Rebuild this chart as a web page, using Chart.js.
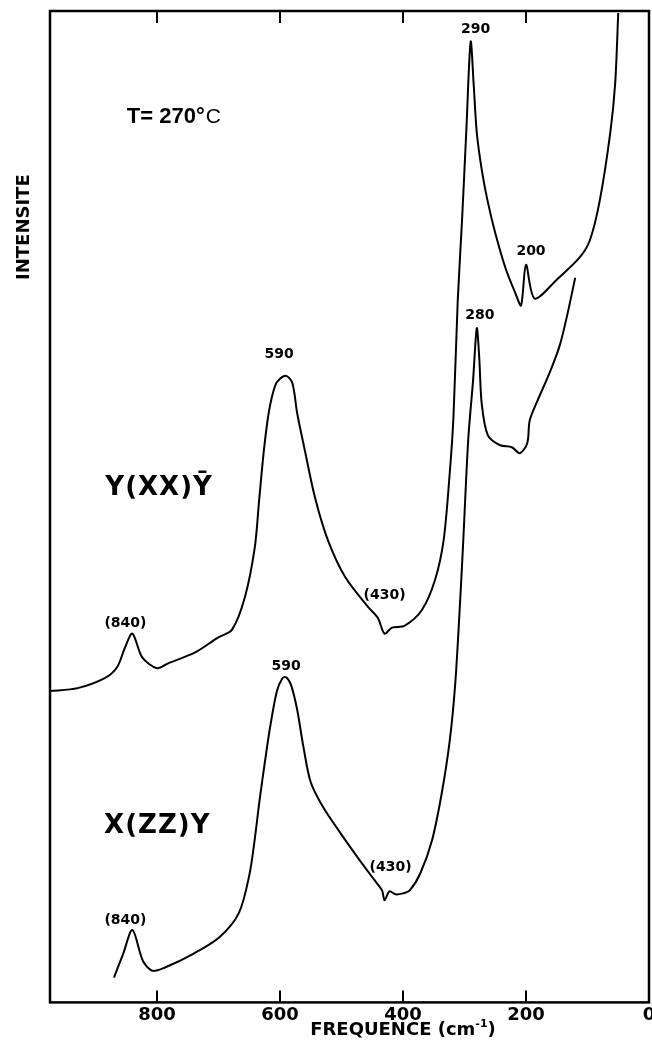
<!DOCTYPE html>
<html>
<head>
<meta charset="utf-8">
<script src="https://cdn.jsdelivr.net/npm/chart.js@4/dist/chart.umd.min.js"></script>
<style>
  html, body { margin: 0; padding: 0; background: #fff; }
  #wrap { width: 652px; height: 1040px; }
</style>
</head>
<body>
<div id="wrap"><canvas id="spectre"></canvas></div>
<script>
// Raman spectra, frequency in cm-1 (axis runs from high to low), intensity in arbitrary units
var tickValues = [800, 600, 400, 200, 0];

// Y(XX)Y-bar spectrum
var freqXX = [975, 929, 885, 865, 852, 840, 824, 800, 782, 738, 701, 678, 657, 641, 634, 626, 618, 608, 600, 590,
              580, 572, 560, 543, 522, 494, 457, 441, 430, 418, 397, 369, 348, 334, 324, 318, 311, 304, 297, 290,
              285, 280, 272, 263, 250, 233, 217, 208, 200, 186, 150, 112, 96, 80, 63, 55, 50];
var intXX  = [31.4, 31.7, 32.7, 33.8, 35.8, 37.2, 34.8, 33.7, 34.2, 35.3, 36.8, 37.6, 40.9, 45.9, 50.6, 55.8, 59.6, 62.2, 62.9, 63.2,
              62.5, 59.4, 55.8, 50.9, 46.6, 42.9, 39.9, 38.8, 37.2, 37.8, 38.0, 39.6, 42.6, 46.6, 53.4, 59.0, 70.8, 78.9, 88.0, 96.9,
              92.5, 87.7, 84.0, 81.0, 77.6, 74.0, 71.5, 70.3, 74.4, 71.0, 72.9, 75.2, 76.9, 80.9, 87.7, 92.7, 99.8];

// X(ZZ)Y spectrum
var freqZZ = [870, 855, 840, 823, 808, 788, 741, 698, 667, 650, 641, 633, 624, 616, 605, 596, 590, 582, 572, 562,
              550, 530, 502, 470, 446, 434, 430, 422, 412, 400, 389, 372, 353, 337, 324, 315, 307, 302, 294, 286, 280,
              276, 272, 262, 242, 223, 210, 198, 194, 182, 161, 145, 132, 120];
var intZZ  = [2.5, 4.9, 7.3, 4.2, 3.2, 3.5, 4.9, 6.6, 9.0, 12.8, 16.5, 20.5, 24.5, 27.8, 31.4, 32.7, 32.8, 32.0, 29.5, 25.8,
              22.2, 19.7, 17.1, 14.3, 12.3, 11.3, 10.3, 11.2, 10.9, 11.0, 11.3, 13.0, 16.3, 21.1, 26.4, 32.2, 40.6, 46.6, 56.7, 62.8, 68.0,
              65.0, 60.4, 57.2, 56.2, 56.0, 55.4, 56.4, 58.7, 60.6, 63.6, 66.3, 69.6, 73.1];

// peak labels: text, spectrum index, frequency of the marked point
var peakText   = ['(840)', '590', '(430)', '290', '200', '(840)', '590', '(430)', '280'];
var peakSeries = [0, 0, 0, 0, 0, 1, 1, 1, 1];
var peakFreq   = [840, 590, 430, 290, 200, 840, 590, 430, 280];

function toPoints(fs, vs) {
    return fs.map(function (f, i) { return {x: f, y: vs[i]}; });
}

var labelFont = 'bold 14px "DejaVu Sans"';

var cadre = {
    id: 'cadre',
    afterDatasetsDraw: function (chart) {
        var ctx = chart.ctx, a = chart.chartArea;
        var x = chart.scales.x, y = chart.scales.y;
        ctx.save();
        ctx.strokeStyle = '#000';
        ctx.fillStyle = '#000';
        ctx.lineWidth = 2.5;
        ctx.strokeRect(a.left, a.top, a.right - a.left, a.bottom - a.top);

        // tick marks pointing into the frame, top and bottom
        ctx.lineWidth = 2;
        tickValues.forEach(function (v) {
            var px = Math.round(x.getPixelForValue(v));
            ctx.beginPath();
            ctx.moveTo(px, a.bottom); ctx.lineTo(px, a.bottom - 12);
            ctx.moveTo(px, a.top); ctx.lineTo(px, a.top + 12);
            ctx.stroke();
        });

        // peak labels, placed just above (or beside) the marked point
        var offs = [[-7, -10], [-7, -21], [0, -38], [5, -12], [5, -13], [-7, -10], [0, -11], [6, -33], [3, -13]];
        var series = [[freqXX, intXX], [freqZZ, intZZ]];
        ctx.font = labelFont;
        ctx.textAlign = 'center';
        ctx.textBaseline = 'middle';
        peakText.forEach(function (t, i) {
            var s = series[peakSeries[i]];
            var k = s[0].indexOf(peakFreq[i]);
            var px = x.getPixelForValue(peakFreq[i]) + offs[i][0];
            var py = y.getPixelForValue(s[1][k]) + offs[i][1];
            ctx.fillText(t, px, py);
        });

        // temperature and scattering geometries
        ctx.textAlign = 'left';
        ctx.textBaseline = 'alphabetic';
        var tx = x.getPixelForValue(849), ty = y.getPixelForValue(88.7);
        ctx.font = 'bold 22px "Liberation Sans"';
        ctx.fillText('T= 270°', tx, ty);
        var w = ctx.measureText('T= 270°').width;
        ctx.font = '21px "Liberation Sans"';
        ctx.fillText('C', tx + w + 1, ty);

        ctx.font = 'bold 26px "DejaVu Sans"';
        ctx.letterSpacing = '1px';
        ctx.fillText('Y(XX)Ȳ', x.getPixelForValue(884), y.getPixelForValue(51.2));
        ctx.fillText('X(ZZ)Y', x.getPixelForValue(886), y.getPixelForValue(17.1));
        ctx.letterSpacing = '0px';

        // axis titles
        ctx.font = 'bold 18px "DejaVu Sans"';
        var main = 'FREQUENCE (cm', sup = '-1', tail = ')';
        var w1 = ctx.measureText(main).width, w3 = ctx.measureText(tail).width;
        ctx.font = 'bold 11px "DejaVu Sans"';
        var w2 = ctx.measureText(sup).width;
        var cx = x.getPixelForValue(400), by = a.bottom + 33;
        var sx = cx - (w1 + w2 + w3) / 2;
        ctx.font = 'bold 18px "DejaVu Sans"';
        ctx.fillText(main, sx, by);
        ctx.font = 'bold 11px "DejaVu Sans"';
        ctx.fillText(sup, sx + w1, by - 8);
        ctx.font = 'bold 18px "DejaVu Sans"';
        ctx.fillText(tail, sx + w1 + w2, by);

        ctx.translate(24, y.getPixelForValue(78.2));
        ctx.rotate(-Math.PI / 2);
        ctx.textAlign = 'center';
        ctx.textBaseline = 'middle';
        ctx.font = 'bold 18px "DejaVu Sans"';
        ctx.fillText('INTENSITE', 0, 0);
        ctx.restore();
    }
};

var chart = new Chart(document.getElementById('spectre'), {
    type: 'line',
    data: {
        datasets: [{
            label: 'Y(XX)Y',
            data: toPoints(freqXX, intXX),
            borderColor: '#000',
            borderWidth: 2,
            pointRadius: 0,
            tension: 0.3
        }, {
            label: 'X(ZZ)Y',
            data: toPoints(freqZZ, intZZ),
            borderColor: '#000',
            borderWidth: 2,
            pointRadius: 0,
            tension: 0.3
        }]
    },
    options: {
        responsive: true,
        maintainAspectRatio: false,
        animation: false,
        layout: { padding: { left: 50, right: 3, top: 11, bottom: 12 } },
        plugins: { legend: { display: false }, tooltip: { enabled: false } },
        scales: {
            x: {
                type: 'linear',
                reverse: true,
                min: 0,
                max: 974,
                grid: { display: false, drawTicks: false },
                border: { display: false },
                afterBuildTicks: function (s) {
                    s.ticks = tickValues.map(function (v) { return {value: v}; });
                },
                afterFit: function (s) { s.paddingLeft = 0; s.paddingRight = 0; },
                ticks: {
                    color: '#000',
                    padding: 2,
                    maxRotation: 0,
                    autoSkip: false,
                    font: { family: 'DejaVu Sans', size: 18, weight: 'bold' }
                }
            },
            y: {
                display: false,
                min: 0,
                max: 100
            }
        }
    },
    plugins: [cadre]
});
</script>
</body>
</html>
